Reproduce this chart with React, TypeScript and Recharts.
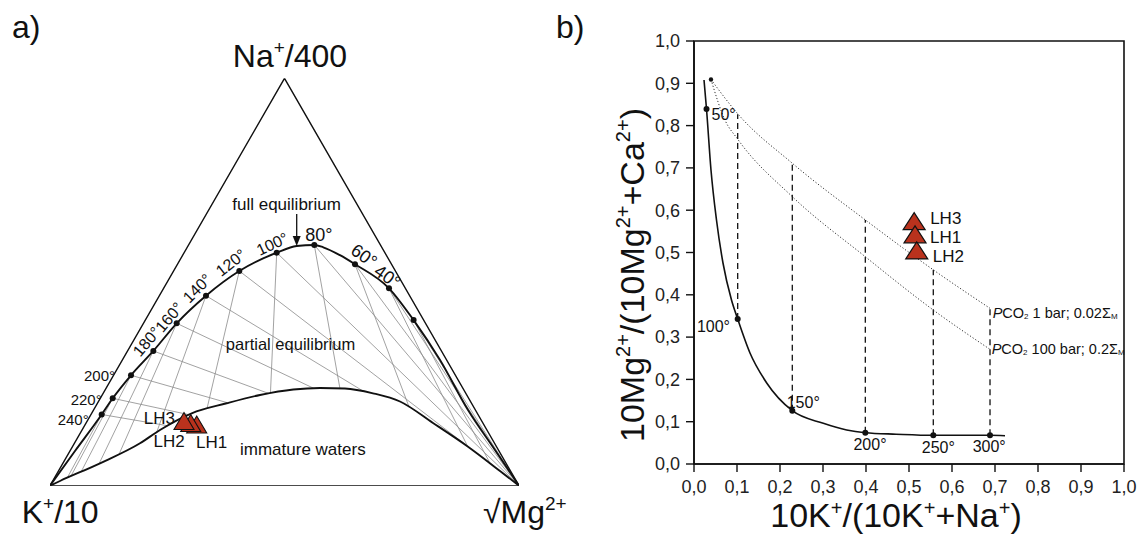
import React from "react";
import { ComposedChart, Line, Scatter, XAxis, YAxis, ReferenceArea } from "recharts";

const FONT = "'Liberation Sans', Arial, Helvetica, sans-serif";
const INK = "#111";
const RED = "#b9321d";

// ---- a) Na-K-Mg triangle, plot units: K (0,0), Mg (100,0), Na apex (50,86.6)
const TRI_X = [0, 100, 50, 0];
const TRI_Y = [0, 0, 86.6, 0];

const FULL_EQ_X = [0, 5.33, 11.02, 13.37, 17.27, 22.03, 27.01, 33.26, 40.36, 48.34, 52.6, 56.35, 58.27, 61.83, 65.03, 72.28, 77.53, 83.16, 89.13, 94.88, 100];
const FULL_EQ_Y = [0, 7.38, 15.14, 18.58, 23.47, 28.64, 34.52, 40.39, 45.64, 49.53, 50.96, 51.17, 50.68, 49.0, 47.07, 41.96, 35.2, 26.72, 16.09, 7.59, 0];

const IMMATURE_X = [0, 2.13, 10.66, 19.19, 23.45, 30.21, 37.68, 44.78, 51.88, 57.57, 62.9, 68.87, 74.63, 81.66, 88.91, 95.95, 100];
const IMMATURE_Y = [0, 1.0, 4.76, 9.01, 11.84, 15.39, 17.52, 19.28, 20.45, 20.77, 20.66, 19.64, 17.9, 13.33, 8.44, 3.13, 0];

const TEMPS_A = [240, 220, 200, 180, 160, 140, 120, 100, 80, 60, 40, 20];
const TEMPS_A_X = [11.02, 13.37, 17.27, 22.03, 27.01, 33.26, 40.36, 48.34, 56.35, 65.03, 72.28, 77.53];
const TEMPS_A_Y = [15.14, 18.58, 23.47, 28.64, 34.52, 40.39, 45.64, 49.53, 51.17, 47.07, 41.96, 35.2];
const TEMPS_A_TEXT = ["240°", "220°", "200°", "180°", "160°", "140°", "120°", "100°", "80°", "60°", "40°", ""];

const SAMPLES = ["LH1", "LH2", "LH3"];
const SAMPLE_A_X = [31.28, 30.0, 28.57];
const SAMPLE_A_Y = [13.01, 13.33, 13.75];

// ---- b) 10K/(10K+Na) vs 10Mg/(10Mg+Ca)
const TICKS = [0, 0.1, 0.2, 0.3, 0.4, 0.5, 0.6, 0.7, 0.8, 0.9, 1.0];

const EQ_X = [0.0233, 0.0291, 0.0395, 0.0523, 0.0674, 0.0872, 0.1016, 0.1302, 0.1691, 0.2286, 0.3007, 0.3551, 0.3984, 0.47, 0.5565, 0.6884, 0.7233];
const EQ_Y = [0.9078, 0.8392, 0.695, 0.5768, 0.4752, 0.3877, 0.3428, 0.2624, 0.1915, 0.126, 0.0962, 0.0804, 0.074, 0.0705, 0.0678, 0.0678, 0.0669];

const TEMPS_B = [50, 100, 150, 200, 250, 300];
const TEMPS_B_X = [0.0291, 0.1016, 0.2286, 0.3984, 0.5565, 0.6884];
const TEMPS_B_Y = [0.8392, 0.3428, 0.126, 0.074, 0.0678, 0.0678];
const DASH_TOP = [null, 0.827, 0.711, 0.577, 0.459, 0.368];

const PCO2_1_X = [0.0395, 0.1016, 0.2286, 0.3984, 0.5565, 0.6884];
const PCO2_1_Y = [0.909, 0.828, 0.711, 0.577, 0.459, 0.368];
const PCO2_100_X = [0.0395, 0.072, 0.1016, 0.2286, 0.3984, 0.5565, 0.6884];
const PCO2_100_Y = [0.909, 0.813, 0.768, 0.632, 0.49, 0.364, 0.271];

const SAMPLE_B_X = [0.514, 0.518, 0.512];
const SAMPLE_B_Y = [0.543, 0.505, 0.574];

type P = { x: number; y: number; name?: string; label?: string; t?: number };
const pts = (xs: number[], ys: number[]): P[] => xs.map((x, i) => ({ x, y: ys[i] }));

const triangle = pts(TRI_X, TRI_Y);
const fullEq = pts(FULL_EQ_X, FULL_EQ_Y);
const immature = pts(IMMATURE_X, IMMATURE_Y);
const tempsA = TEMPS_A.map((t, i) => ({ x: TEMPS_A_X[i], y: TEMPS_A_Y[i], t, label: TEMPS_A_TEXT[i] }));
const samplesA = SAMPLES.map((n, i) => ({ x: SAMPLE_A_X[i], y: SAMPLE_A_Y[i], name: n }));

// construction lines: from each equilibrium point towards Mg corner and away from Na apex, up to the immature-water curve
function hitLower(p: P, d: P): P | null {
  let best = Infinity;
  for (let i = 0; i < immature.length - 1; i++) {
    const a = immature[i];
    const b = immature[i + 1];
    const ex = b.x - a.x, ey = b.y - a.y;
    const den = d.x * ey - d.y * ex;
    if (Math.abs(den) < 1e-12) continue;
    const wx = a.x - p.x, wy = a.y - p.y;
    const t = (wx * ey - wy * ex) / den;
    const s = (wx * d.y - wy * d.x) / den;
    if (t > 1e-6 && s >= -1e-9 && s <= 1 + 1e-9 && t < best) best = t;
  }
  return best === Infinity ? null : { x: p.x + best * d.x, y: p.y + best * d.y };
}
const fanLines: P[][] = [];
tempsA.forEach((p) => {
  [{ x: 100 - p.x, y: -p.y }, { x: p.x - 50, y: p.y - 86.6 }].forEach((d) => {
    const e = hitLower(p, d);
    if (e) fanLines.push([{ x: p.x, y: p.y }, e]);
  });
});

const eqCurve = pts(EQ_X, EQ_Y);
const tempsB = TEMPS_B.map((t, i) => ({ x: TEMPS_B_X[i], y: TEMPS_B_Y[i], t, label: `${t}°` }));
const dashLines = tempsB
  .map((p, i) => (DASH_TOP[i] == null ? null : [{ x: p.x, y: p.y }, { x: p.x, y: DASH_TOP[i] as number }]))
  .filter(Boolean) as P[][];
const pco2One = pts(PCO2_1_X, PCO2_1_Y);
const pco2Hundred = pts(PCO2_100_X, PCO2_100_Y);
const samplesB = SAMPLES.map((n, i) => ({ x: SAMPLE_B_X[i], y: SAMPLE_B_Y[i], name: n })).sort((a, b) => b.y - a.y);

// label placement (styling only)
const TEMP_A_STYLE: Record<number, { dx: number; dy: number; angle: number; anchor: string; size: number }> = {
  240: { dx: -13, dy: 5.5, angle: 0, anchor: "end", size: 15 },
  220: { dx: -11, dy: 1.7, angle: 0, anchor: "end", size: 15 },
  200: { dx: -16, dy: 0, angle: 0, anchor: "end", size: 15 },
  180: { dx: -6.6, dy: -9.3, angle: -50, anchor: "middle", size: 16 },
  160: { dx: -7.4, dy: -6, angle: -50, anchor: "middle", size: 16 },
  140: { dx: -8.7, dy: -7.4, angle: -45, anchor: "middle", size: 16 },
  120: { dx: -8.3, dy: -8.3, angle: -38, anchor: "middle", size: 16 },
  100: { dx: -4.4, dy: -8.7, angle: -25, anchor: "middle", size: 16 },
  80: { dx: 4.5, dy: -10, angle: 0, anchor: "middle", size: 18 },
  60: { dx: 9, dy: -8.3, angle: 35, anchor: "middle", size: 18 },
  40: { dx: -1.7, dy: -11.6, angle: 35, anchor: "middle", size: 18 },
  20: { dx: 0, dy: 0, angle: 0, anchor: "middle", size: 16 },
};
const TEMP_B_STYLE: Record<number, { dx: number; dy: number; anchor: string }> = {
  50: { dx: 5, dy: 5, anchor: "start" },
  100: { dx: -7.7, dy: 8, anchor: "end" },
  150: { dx: -5.6, dy: -8, anchor: "start" },
  200: { dx: 4.7, dy: 12.3, anchor: "middle" },
  250: { dx: 5, dy: 12.4, anchor: "middle" },
  300: { dx: -0.8, dy: 11.4, anchor: "middle" },
};
const SAMPLE_A_STYLE: Record<string, { dx: number; dy: number; anchor: string }> = {
  LH3: { dx: -9, dy: -3, anchor: "end" },
  LH2: { dx: -21.5, dy: 19, anchor: "middle" },
  LH1: { dx: 15, dy: 18, anchor: "middle" },
};
const SAMPLE_B_STYLE: Record<string, { dx: number; dy: number }> = {
  LH3: { dx: 16, dy: -3 },
  LH1: { dx: 15, dy: 3 },
  LH2: { dx: 16, dy: 6 },
};

const triPoints = (cx: number, cy: number, w: number, h: number) =>
  `${cx},${cy - h / 2} ${cx + w / 2},${cy + h / 2} ${cx - w / 2},${cy + h / 2}`;

const TempDotA = (props: any) => {
  const { cx, cy, payload } = props;
  const s = TEMP_A_STYLE[payload.t];
  const x = cx + s.dx;
  const y = cy + s.dy;
  return (
    <g>
      <circle cx={cx} cy={cy} r={3} fill={INK} />
      {payload.label ? (
        <text x={x} y={y} textAnchor={s.anchor} dominantBaseline="central" fontSize={s.size} fontFamily={FONT} fill={INK}
          transform={s.angle ? `rotate(${s.angle} ${x} ${y})` : undefined}>
          {payload.label}
        </text>
      ) : null}
    </g>
  );
};

const SampleA = (props: any) => {
  const { cx, cy, payload } = props;
  const s = SAMPLE_A_STYLE[payload.name];
  return (
    <g>
      <polygon points={triPoints(cx, cy, 20, 17)} fill={RED} stroke={INK} strokeWidth={1.1} />
      <text x={cx + s.dx} y={cy + s.dy} textAnchor={s.anchor} dominantBaseline="central" fontSize={17} fontFamily={FONT} fill={INK}>
        {payload.name}
      </text>
    </g>
  );
};

const TempDotB = (props: any) => {
  const { cx, cy, payload } = props;
  const s = TEMP_B_STYLE[payload.t];
  return (
    <g>
      <circle cx={cx} cy={cy} r={3} fill={INK} />
      <text x={cx + s.dx} y={cy + s.dy} textAnchor={s.anchor} dominantBaseline="central" fontSize={16} fontFamily={FONT} fill={INK}>
        {payload.label}
      </text>
    </g>
  );
};

const SampleB = (props: any) => {
  const { cx, cy, payload } = props;
  const s = SAMPLE_B_STYLE[payload.name];
  return (
    <g>
      <polygon points={triPoints(cx, cy, 22, 17)} fill={RED} stroke={INK} strokeWidth={1.2} />
      <text x={cx + s.dx} y={cy + s.dy} dominantBaseline="central" fontSize={17} fontFamily={FONT} fill={INK}>
        {payload.name}
      </text>
    </g>
  );
};

const StartMark = (props: any) => <circle cx={props.cx} cy={props.cy} r={2.2} fill={INK} />;

const fmt = (v: number) => v.toFixed(1).replace(".", ",");
const axisTick = { fontSize: 18, fill: "#222", fontFamily: FONT };

function TernaryPanel() {
  return (
    <ComposedChart width={540} height={534} margin={{ top: 78.3, right: 21, bottom: 48.3, left: 50 }}>
      <XAxis type="number" dataKey="x" domain={[0, 100]} allowDataOverflow hide />
      <YAxis type="number" dataKey="y" domain={[0, 86.6]} allowDataOverflow hide />
      {fanLines.map((seg, i) => (
        <Line key={`fan-${i}`} data={seg} dataKey="y" type="linear" stroke="#8a8a8a" strokeWidth={0.8} dot={false} isAnimationActive={false} />
      ))}
      <Line data={triangle} dataKey="y" type="linear" stroke={INK} strokeWidth={1.4} dot={false} isAnimationActive={false} />
      <Line data={immature} dataKey="y" type="monotone" stroke={INK} strokeWidth={1.9} dot={false} isAnimationActive={false} />
      <Line data={fullEq} dataKey="y" type="monotone" stroke={INK} strokeWidth={1.9} dot={false} isAnimationActive={false} />
      <Scatter data={tempsA} dataKey="y" shape={TempDotA} isAnimationActive={false} />
      <Scatter data={samplesA} dataKey="y" shape={SampleA} isAnimationActive={false} />
    </ComposedChart>
  );
}

function RatioPanel() {
  return (
    <ComposedChart width={601} height={534} margin={{ top: 41, right: 17, bottom: 30, left: 94 }}>
      <XAxis type="number" dataKey="x" domain={[0, 1]} ticks={TICKS} interval={0} tickFormatter={fmt} height={40}
        tick={axisTick} tickSize={8} tickMargin={8} axisLine={{ stroke: INK, strokeWidth: 1.6 }} tickLine={{ stroke: INK, strokeWidth: 1.4 }} />
      <YAxis type="number" dataKey="y" domain={[0, 1]} ticks={TICKS} interval={0} tickFormatter={fmt} width={60}
        tick={axisTick} tickSize={8} tickMargin={6} axisLine={{ stroke: INK, strokeWidth: 1.6 }} tickLine={{ stroke: INK, strokeWidth: 1.4 }} />
      <ReferenceArea x1={0} x2={1} y1={0} y2={1} fill="none" fillOpacity={0} stroke={INK} strokeWidth={1.6} ifOverflow="visible" />
      {dashLines.map((seg, i) => (
        <Line key={`dash-${i}`} data={seg} dataKey="y" type="linear" stroke={INK} strokeWidth={1.3} strokeDasharray="6 4" dot={false} isAnimationActive={false} />
      ))}
      <Line data={pco2One} dataKey="y" type="monotone" stroke="#333" strokeWidth={1} strokeDasharray="1.2 2" dot={false} isAnimationActive={false} />
      <Line data={pco2Hundred} dataKey="y" type="monotone" stroke="#333" strokeWidth={1} strokeDasharray="1.2 2" dot={false} isAnimationActive={false} />
      <Line data={eqCurve} dataKey="y" type="monotone" stroke={INK} strokeWidth={1.6} dot={false} isAnimationActive={false} />
      <Scatter data={[pco2One[0]]} dataKey="y" shape={StartMark} isAnimationActive={false} />
      <Scatter data={tempsB} dataKey="y" shape={TempDotB} isAnimationActive={false} />
      <Scatter data={samplesB} dataKey="y" shape={SampleB} isAnimationActive={false} />
    </ComposedChart>
  );
}

function Annotations() {
  const t = { fontFamily: FONT, fill: INK };
  return (
    <svg width={1141} height={534} style={{ position: "absolute", left: 0, top: 0, pointerEvents: "none" }}>
      <text x={12} y={38} fontSize={32} {...t}>a)</text>
      <text x={556} y={38} fontSize={32} {...t}>b)</text>

      <text x={290} y={66.7} fontSize={32} textAnchor="middle" {...t}>
        Na<tspan dy={-13} fontSize={19}>+</tspan><tspan dy={13}>/400</tspan>
      </text>
      <text x={21.7} y={523.3} fontSize={32} {...t}>
        K<tspan dy={-13} fontSize={19}>+</tspan><tspan dy={13}>/10</tspan>
      </text>
      <text x={483} y={523.3} fontSize={32} {...t}>
        √Mg<tspan dy={-13} fontSize={19}>2+</tspan>
      </text>

      <text x={286.6} y={204.8} fontSize={17} textAnchor="middle" dominantBaseline="central" {...t}>full equilibrium</text>
      <line x1={296.7} y1={214} x2={296.7} y2={238} stroke={INK} strokeWidth={1.3} />
      <polygon points="292.7,236 300.7,236 296.7,246" fill={INK} />
      <text x={290.5} y={344.2} fontSize={16.5} textAnchor="middle" dominantBaseline="central" {...t}>partial equilibrium</text>
      <text x={240} y={449.3} fontSize={17} dominantBaseline="central" {...t}>immature waters</text>

      <text x={992.7} y={313.3} fontSize={14.5} dominantBaseline="central" {...t}>
        <tspan fontStyle="italic">P</tspan>CO<tspan fontSize={8} dy={3}>2</tspan><tspan dy={-3}> 1 bar; 0.02Σ</tspan><tspan fontSize={8} dy={3}>M</tspan>
      </text>
      <text x={991.7} y={349.3} fontSize={14.5} dominantBaseline="central" {...t}>
        <tspan fontStyle="italic">P</tspan>CO<tspan fontSize={8} dy={3}>2</tspan><tspan dy={-3}> 100 bar; 0.2Σ</tspan><tspan fontSize={8} dy={3}>M</tspan>
      </text>

      <text x={896} y={527} fontSize={34} textAnchor="middle" {...t}>
        10K<tspan dy={-12} fontSize={20}>+</tspan><tspan dy={12}>/(10K</tspan><tspan dy={-12} fontSize={20}>+</tspan>
        <tspan dy={12}>+Na</tspan><tspan dy={-12} fontSize={20}>+</tspan><tspan dy={12}>)</tspan>
      </text>
      <text x={644} y={275} fontSize={34} textAnchor="middle" transform="rotate(-90 644 275)" {...t}>
        10Mg<tspan dy={-14} fontSize={20}>2+</tspan><tspan dy={14}>/(10Mg</tspan><tspan dy={-14} fontSize={20}>2+</tspan>
        <tspan dy={14}>+Ca</tspan><tspan dy={-14} fontSize={20}>2+</tspan><tspan dy={14}>)</tspan>
      </text>
    </svg>
  );
}

export default function App() {
  return (
    <div style={{ position: "absolute", left: 0, top: 0, width: 1141, height: 534, background: "#fff", overflow: "hidden", fontFamily: FONT }}>
      <div style={{ position: "absolute", left: 0, top: 0 }}>
        <TernaryPanel />
      </div>
      <div style={{ position: "absolute", left: 540, top: 0 }}>
        <RatioPanel />
      </div>
      <Annotations />
    </div>
  );
}
